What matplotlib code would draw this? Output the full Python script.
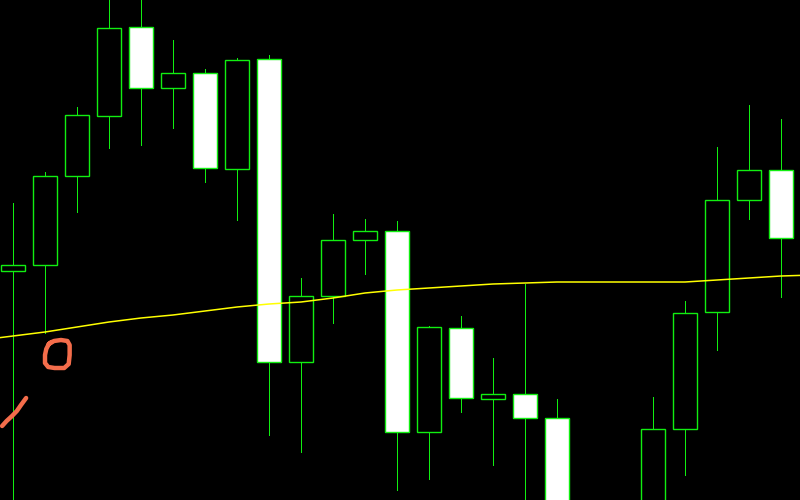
import numpy as np
import matplotlib
matplotlib.use("Agg")
import matplotlib.pyplot as plt
from matplotlib.patches import Rectangle

# OHLC data (price units), index 0..24 visible
opens  = [229, 235, 324, 384, 473, 412, 427, 331, 441, 138, 204, 260, 269, 68, 172, 101, 106, 82, -40, -70, -40, 71, 188, 300, 330]
highs  = [297, 328, 393, 510, 510, 460, 431, 442, 445, 222, 286, 281, 279, 174, 184, 142, 216, 101, -5, -10, 103, 199, 353, 395, 381]
lows   = [-20, 167, 288, 352, 355, 372, 318, 280, 65, 48, 177, 226, 10, 21, 88, 35, -20, -60, -100, -90, -60, 25, 150, 281, 203]
closes = [235, 324, 385, 472, 412, 427, 332, 440, 138, 204, 260, 269, 68, 173, 102, 106, 82, -40, -20, -45, 71, 187, 300, 330, 262]

# moving average, index -1..25
ma_idx = list(range(-1, 26))
ma_vals = [160, 164, 168, 173, 178, 182, 185, 189, 193, 196, 198, 202, 207, 210, 212, 214, 216, 217, 218,
           218, 218, 218, 218, 220, 222, 224, 225]

# hand-drawn annotations (index, price)
loop_x = [1.12, 1.28, 1.5, 1.7, 1.77, 1.77, 1.74, 1.6, 1.3, 1.1, 1.0, 1.0, 1.04, 1.12, 1.2]
loop_y = [156, 159, 160, 159, 155, 145, 136, 132, 132, 133, 137, 145, 151, 156, 158]
stroke_x = [-0.34, -0.2, -0.03, 0.12, 0.25, 0.41]
stroke_y = [74, 79, 84, 89, 95, 102]

green = '#11ee11'

fig = plt.figure(figsize=(8, 5), dpi=100)
ax = fig.add_axes([0, 0, 1, 1])
ax.set_facecolor('black')
fig.patch.set_facecolor('black')

w = 0.75
for i in range(len(opens)):
    o, h, l, c = opens[i], highs[i], lows[i], closes[i]
    ax.vlines(i, l, h, color=green, lw=0.72, zorder=1, antialiased=False)
    fill = 'black' if c >= o else 'white'
    ax.add_patch(Rectangle((i - w / 2, min(o, c)), w, abs(c - o),
                           facecolor=fill, edgecolor=green, lw=1.0, zorder=2))

ax.plot(ma_idx, ma_vals, color='#ffff00', lw=1.1, zorder=3)

ax.plot(loop_x, loop_y, color='#f46d4b', lw=3.2, solid_capstyle='round', solid_joinstyle='round', zorder=4)
ax.plot(stroke_x, stroke_y, color='#f46d4b', lw=3.2, solid_capstyle='round', zorder=4)

ax.set_xlim(-13 / 32, 787 / 32)
ax.set_ylim(0, 500)
ax.axis('off')

fig.savefig('out.png', dpi=100, facecolor='black')
